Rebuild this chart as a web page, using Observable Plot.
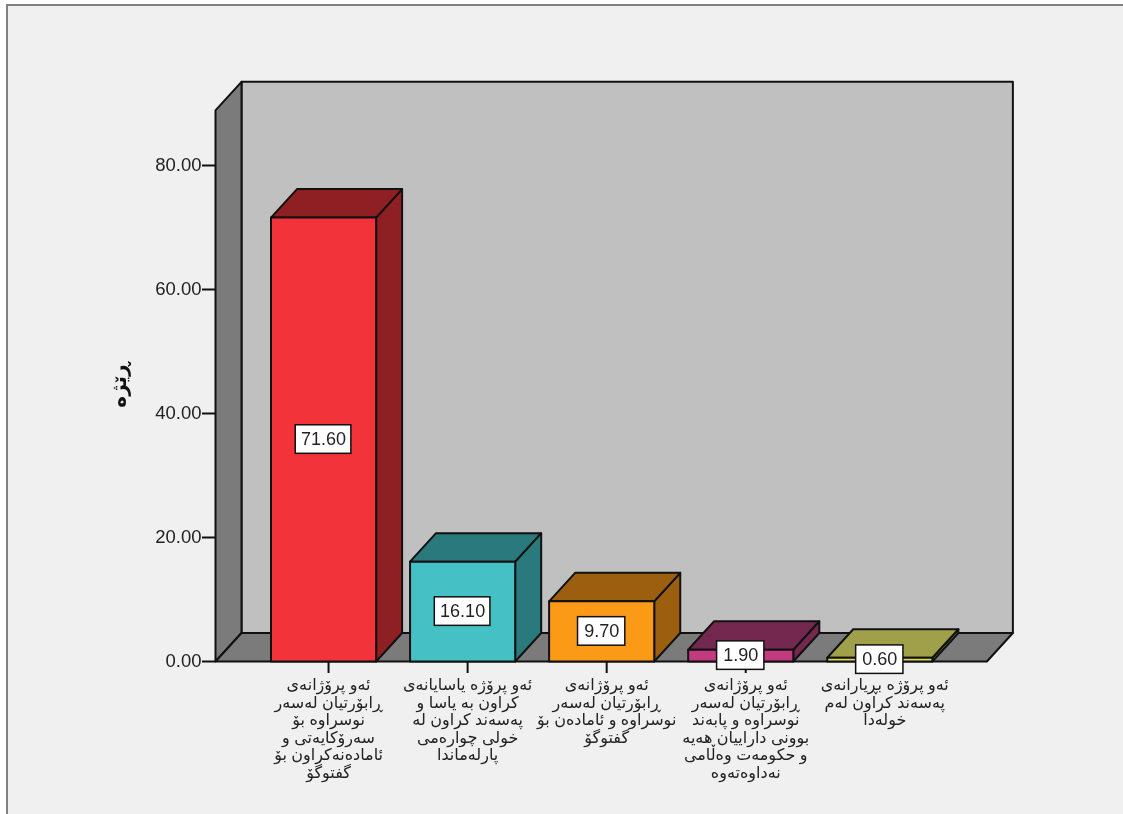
<!DOCTYPE html>
<html><head><meta charset="utf-8">
<script src="https://cdn.jsdelivr.net/npm/d3@7"></script>
<script src="https://cdn.jsdelivr.net/npm/@observablehq/plot@0.6"></script>
<style>
html,body{margin:0;padding:0;background:#fff;overflow:hidden}
#frame{position:absolute;left:6px;top:4px;width:1117px;height:810px;background:#f0f0f0;border-top:2px solid #808080;border-left:2px solid #808080;box-sizing:border-box;filter:blur(.4px)}
#chart{position:absolute;left:0;top:0;filter:blur(.4px)}
svg{background:transparent!important}
</style></head><body>
<div id="frame"></div><div id="chart"></div>
<script>
const categories = [
 "ئەو پرۆژانەی\nڕابۆرتیان لەسەر\nنوسراوە بۆ\nسەرۆکایەتی و\nئامادەنەکراون بۆ\nگفتوگۆ",
 "ئەو پرۆژە یاسایانەی\nکراون بە یاسا و\nپەسەند کراون لە\nخولی چوارەمی\nپارلەماندا",
 "ئەو پرۆژانەی\nڕابۆرتیان لەسەر\nنوسراوە و ئامادەن بۆ\nگفتوگۆ",
 "ئەو پرۆژانەی\nڕابۆرتیان لەسەر\nنوسراوە و پابەند\nبوونی داراییان هەیە\nو حکومەت وەڵامی\nنەداوەتەوە",
 "ئەو پرۆژە بڕیارانەی\nپەسەند کراون لەم\nخولەدا"
];
const values = [71.6, 16.1, 9.7, 1.9, 0.6];
const frontColors = ["#f23339","#45c1c5","#fb9a17","#c23a80","#d8d85a"];
const sideColors  = ["#8e1f23","#2a7a7d","#9c5f10","#74284f","#a0a04a"];
const yTicks = [0,20,40,60,80];
const yTitle = "ڕێژە";

// chart-space extents of the pseudo-3D box (category units / percent units)
const depthX = 0.187, depthY = 4.6, halfBar = 0.378;
const wallLeft = -0.777, wallRight = 4.77, wallTop = 88.9;
const boxHalfW = [0.2,0.2,0.17,0.17,0.17], boxHalfH = 2.3;

const poly = (pts, fill, strokeWidth=2) => Plot.line(pts, {x:d=>d[0], y:d=>d[1], fill, stroke:"#111", strokeWidth, strokeLinejoin:"round"});

const marks = [
  poly([[wallLeft+depthX,depthY],[wallRight+depthX,depthY],[wallRight+depthX,wallTop+depthY],[wallLeft+depthX,wallTop+depthY],[wallLeft+depthX,depthY]],"#c0c0c0"),
  poly([[wallLeft,0],[wallLeft+depthX,depthY],[wallLeft+depthX,wallTop+depthY],[wallLeft,wallTop],[wallLeft,0]],"#7b7b7b"),
  poly([[wallLeft,0],[wallLeft+depthX,depthY],[wallRight+depthX,depthY],[wallRight,0],[wallLeft,0]],"#7b7b7b")
];
values.forEach((v,i)=>{
  const a=i-halfBar,b=i+halfBar;
  marks.push(
    poly([[b,0],[b+depthX,depthY],[b+depthX,v+depthY],[b,v],[b,0]],sideColors[i]),
    poly([[a,v],[a+depthX,v+depthY],[b+depthX,v+depthY],[b,v],[a,v]],sideColors[i]),
    poly([[a,0],[b,0],[b,v],[a,v],[a,0]],frontColors[i])
  );
});
marks.push(
  Plot.axisY({ticks:yTicks,tickFormat:d3.format(".2f"),tickSize:13,tickPadding:1,fontSize:18.5,label:null,stroke:"#111",strokeWidth:2,fill:"#222"}),
  Plot.axisX({ticks:d3.range(values.length),tickFormat:i=>categories[i],tickSize:12,tickPadding:4,fontSize:16,label:null,stroke:"#111",strokeWidth:2,fill:"#222",lineHeight:1.1,lineAnchor:"top",textAnchor:"middle",dx:5}),
  Plot.rect(values,{x1:(d,i)=>i-boxHalfW[i],x2:(d,i)=>i+boxHalfW[i],y1:d=>d/2-boxHalfH,y2:d=>d/2+boxHalfH,fill:"#fff",stroke:"#111",strokeWidth:1.5}),
  Plot.text(values,{x:(d,i)=>i,y:d=>d/2,text:d=>d3.format(".2f")(d),fontSize:18,fill:"#222"}),
  Plot.text([yTitle],{x:wallLeft,y:44.6,text:d=>d,rotate:-90,dx:-96,fontSize:20,fontWeight:"bold",fill:"#111"})
);

const chart = Plot.plot({
  width:1123,height:814,
  marginLeft:215,marginRight:7.3,marginTop:41,marginBottom:153,
  style:{fontFamily:"'Liberation Sans','DejaVu Sans',sans-serif",background:"transparent",overflow:"visible"},
  x:{type:"linear",domain:[wallLeft,5.7]},
  y:{type:"linear",domain:[0,100]},
  marks
});
document.getElementById("chart").appendChild(chart);
</script></body></html>
